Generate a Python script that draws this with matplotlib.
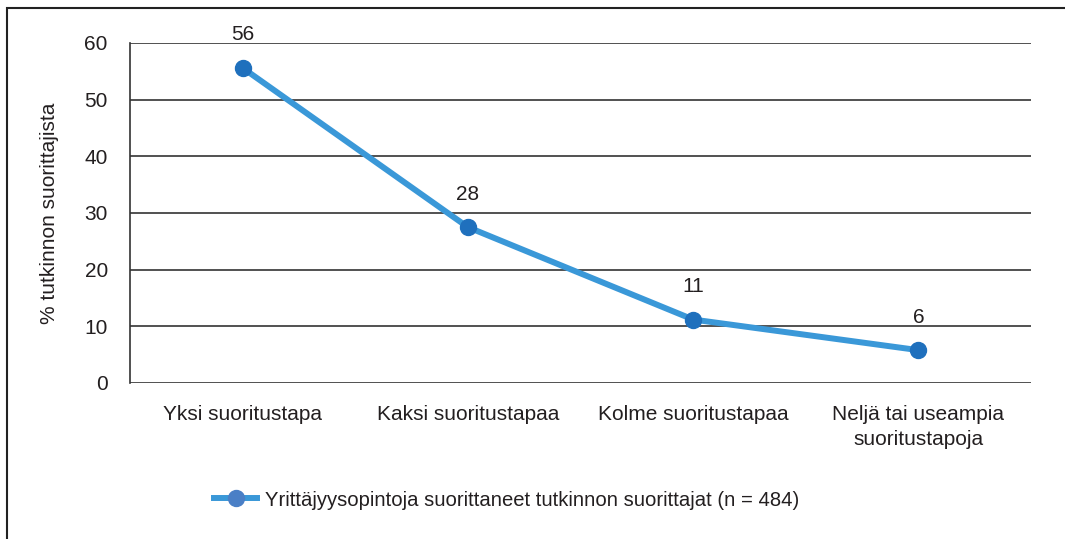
import matplotlib
matplotlib.use("Agg")
import matplotlib.pyplot as plt
from matplotlib import font_manager
from matplotlib.lines import Line2D
from matplotlib.patches import Rectangle

categories = ["Yksi suoritustapa", "Kaksi suoritustapaa", "Kolme suoritustapaa",
              "Neljä tai useampia\nsuoritustapoja"]
values = [55.6, 27.5, 11.2, 5.8]
labels = ["56", "28", "11", "6"]
series_name = "Yrittäjyysopintoja suorittaneet tutkinnon suorittajat (n = 484)"
y_ticks = [0, 10, 20, 30, 40, 50, 60]
y_label = "% tutkinnon suorittajista"

names = {f.name for f in font_manager.fontManager.ttflist}
fam = "Liberation Sans Narrow" if "Liberation Sans Narrow" in names else "Liberation Sans"
plt.rcParams["font.family"] = [fam, "DejaVu Sans"]

W, H = 1065, 539
fig = plt.figure(figsize=(W / 100, H / 100), dpi=100)
ax = fig.add_axes([130 / W, 1 - 383 / H, (1031 - 130) / W, (383 - 43) / H])

txt_c = "#231f20"
line_c = "#3a98d8"
mark_c = "#1f70bd"
x = list(range(len(categories)))
ax.plot(x, values, color=line_c, lw=4.3, marker="o", ms=11.5,
        markerfacecolor=mark_c, markeredgecolor=mark_c, zorder=3, solid_capstyle="round")
for xi, v, lab in zip(x, values, labels):
    ax.annotate(lab, (xi, v), xytext=(0, 17), textcoords="offset points",
                ha="center", va="bottom", fontsize=15, color=txt_c)

ax.set_xlim(-0.5, len(categories) - 0.5)
ax.set_ylim(0, 60)
ax.set_yticks(y_ticks)
ax.set_xticks(x)
ax.set_xticklabels(categories, fontsize=15, color=txt_c, linespacing=1.4)
ax.tick_params(axis="y", length=0, pad=16, labelsize=15, labelcolor=txt_c)
ax.tick_params(axis="x", length=0, pad=16)
ax.grid(axis="y", color="#333333", lw=1.2)
ax.set_axisbelow(True)
for s in ["top", "right", "bottom"]:
    ax.spines[s].set_visible(False)
ax.spines["left"].set_color("#333333")
ax.spines["left"].set_linewidth(1.2)
ax.set_ylabel(y_label, fontsize=15, color=txt_c, labelpad=18)

handle = Line2D([0], [0], color=line_c, lw=4.3, marker="o", ms=11.5,
                markerfacecolor="#4a7fc6", markeredgecolor="#4a7fc6")
fig.legend([handle], [series_name], loc="center left",
           bbox_to_anchor=(196 / W, 1 - 500 / H), frameon=False, fontsize=14.6,
           handlelength=2.1, handletextpad=0.4, labelcolor=txt_c)

fig.patches.append(Rectangle((7 / W, -0.1), 1.2, 1 - 8 / H + 0.1, transform=fig.transFigure,
                             fill=False, edgecolor="#222222", lw=1.5))

fig.savefig("out.png", dpi=100)
